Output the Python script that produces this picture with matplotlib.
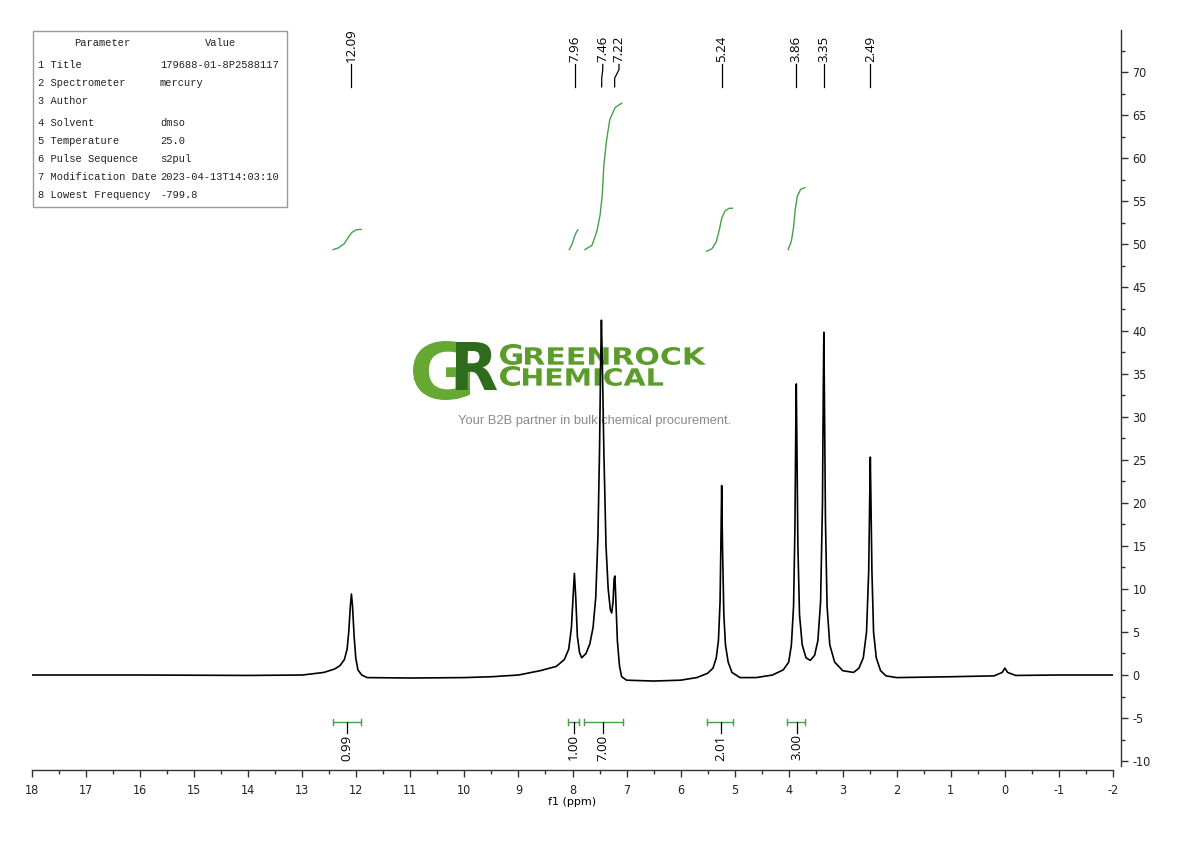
import matplotlib
matplotlib.use("Agg")
import matplotlib.pyplot as plt
import matplotlib.transforms as mtransforms
from matplotlib.patches import Rectangle, PathPatch
from matplotlib.textpath import TextPath
from matplotlib.font_manager import FontProperties
from matplotlib.ticker import MultipleLocator

plt.rcParams["axes.unicode_minus"] = False

# spectrum trace (ppm, intensity)
trace_ppm = [18.0, 16.0, 14.0, 13.0, 12.6, 12.4, 12.3, 12.22, 12.17, 12.14,
             12.11, 12.09, 12.07, 12.04, 12.01, 11.97, 11.9, 11.8, 11.0, 10.0,
             9.5, 9.0, 8.6, 8.3, 8.15, 8.07, 8.02, 7.99, 7.965, 7.94,
             7.91, 7.87, 7.83, 7.75, 7.68, 7.62, 7.57, 7.53, 7.50, 7.48,
             7.465, 7.45, 7.42, 7.38, 7.34, 7.30, 7.275, 7.25, 7.23, 7.215,
             7.20, 7.17, 7.13, 7.09, 7.0, 6.5, 6.0, 5.7, 5.5, 5.4,
             5.34, 5.30, 5.27, 5.255, 5.24, 5.225, 5.20, 5.17, 5.12, 5.05,
             4.9, 4.6, 4.3, 4.1, 4.0, 3.95, 3.91, 3.885, 3.87, 3.86,
             3.85, 3.83, 3.80, 3.75, 3.68, 3.60, 3.52, 3.46, 3.41, 3.375,
             3.36, 3.35, 3.34, 3.32, 3.29, 3.24, 3.15, 3.0, 2.8, 2.7,
             2.62, 2.56, 2.52, 2.50, 2.49, 2.48, 2.46, 2.43, 2.38, 2.30,
             2.2, 2.0, 1.0, 0.2, 0.05, 0.0, -0.05, -0.2, -1.0, -2.0]
trace_int = [0.0, 0.0, -0.05, 0.0, 0.3, 0.7, 1.1, 1.8, 3.0, 5.0,
             8.0, 9.4, 8.0, 4.5, 2.0, 0.6, 0.0, -0.3, -0.35, -0.3,
             -0.2, 0.0, 0.5, 1.0, 1.8, 3.0, 5.5, 9.0, 11.8, 9.0,
             4.5, 2.6, 2.0, 2.5, 3.6, 5.5, 9.0, 16.0, 26.0, 36.0,
             41.2, 37.0, 26.0, 15.0, 10.0, 7.6, 7.2, 8.5, 11.2, 11.5,
             9.0, 4.0, 1.0, -0.2, -0.6, -0.7, -0.6, -0.3, 0.2, 0.8,
             2.0, 4.0, 8.5, 15.0, 22.0, 15.0, 7.0, 3.5, 1.5, 0.3,
             -0.3, -0.3, 0.0, 0.6, 1.5, 3.5, 8.0, 17.0, 28.0, 33.8,
             28.0, 15.0, 7.0, 3.5, 2.0, 1.7, 2.3, 4.0, 8.5, 20.0,
             33.0, 39.8, 33.0, 18.0, 8.0, 3.5, 1.5, 0.5, 0.3, 0.8,
             2.0, 5.0, 12.0, 21.0, 25.3, 21.0, 12.0, 5.0, 2.0, 0.5,
             -0.1, -0.3, -0.2, -0.1, 0.3, 0.8, 0.3, -0.05, 0.0, 0.0]

# peak picking labels
peak_ppm = [12.09, 7.96, 7.46, 7.22, 5.24, 3.86, 3.35, 2.49]
peak_text = ["12.09", "7.96", "7.46", "7.22", "5.24", "3.86", "3.35", "2.49"]
peak_label_ppm = [12.09, 7.96, 7.44, 7.14, 5.24, 3.86, 3.35, 2.49]

# integration ranges and values
int_start = [12.43, 8.08, 7.79, 5.51, 4.03]
int_end = [11.91, 7.88, 7.07, 5.03, 3.70]
int_center = [12.17, 7.98, 7.43, 5.26, 3.85]
int_value = ["0.99", "1.00", "7.00", "2.01", "3.00"]

# integral curves
curve_ppm = [
    [12.43, 12.33, 12.22, 12.14, 12.08, 12.00, 11.91],
    [8.06, 8.01, 7.97, 7.93, 7.90],
    [7.77, 7.64, 7.55, 7.49, 7.45, 7.42, 7.37, 7.31, 7.21, 7.09],
    [5.52, 5.42, 5.34, 5.28, 5.24, 5.18, 5.10, 5.04],
    [4.01, 3.95, 3.91, 3.88, 3.84, 3.78, 3.70],
]
curve_val = [
    [49.4, 49.6, 50.1, 50.9, 51.4, 51.7, 51.75],
    [49.4, 50.0, 50.8, 51.4, 51.7],
    [49.4, 49.9, 51.5, 53.4, 55.7, 59.2, 62.1, 64.5, 65.9, 66.4],
    [49.2, 49.5, 50.3, 51.8, 53.0, 53.9, 54.2, 54.2],
    [49.4, 50.4, 52.0, 54.0, 55.6, 56.4, 56.6],
]

# parameter table
param_names = ["1 Title", "2 Spectrometer", "3 Author", "4 Solvent",
               "5 Temperature", "6 Pulse Sequence", "7 Modification Date",
               "8 Lowest Frequency"]
param_values = ["179688-01-8P2588117", "mercury", "", "dmso", "25.0",
                "s2pul", "2023-04-13T14:03:10", "-799.8"]

W, H = 1190, 841
GREEN = "#4a9e4a"


def fx(px):
    return px / W


def fy(py):
    return 1 - py / H


fig = plt.figure(figsize=(W / 100, H / 100), dpi=100)
ax = fig.add_axes([fx(32), fy(770), (1113 - 32) / W, (770 - 30) / H])
ax.patch.set_alpha(0)

# 1: spectrum and integral curves
ax.plot(trace_ppm, trace_int, color="black", lw=1.2, zorder=3)
for xs, ys in zip(curve_ppm, curve_val):
    ax.plot(xs, ys, color=GREEN, lw=1.0, zorder=3)

ax.set_xlim(18, -2)
ax.set_ylim(-11.03, 74.9)

# 2: axes styling
for side in ["top", "left"]:
    ax.spines[side].set_visible(False)
ax.spines["right"].set_position(("outward", 6))
ax.spines["right"].set_bounds(-10.6, 74.9)
for side in ["right", "bottom"]:
    ax.spines[side].set_color("#333333")
    ax.spines[side].set_linewidth(1.0)

ax.yaxis.tick_right()
ax.yaxis.set_major_locator(MultipleLocator(5))
ax.yaxis.set_minor_locator(MultipleLocator(2.5))
ax.xaxis.set_major_locator(MultipleLocator(1))
ax.xaxis.set_minor_locator(MultipleLocator(0.5))
ax.tick_params(which="major", length=5, width=1, color="#333333",
               labelcolor="#222222", pad=3)
ax.tick_params(axis="x", which="major", pad=5)
ax.tick_params(which="minor", length=3, width=1, color="#333333")
ax.set_yticks(range(-10, 75, 5))
tick_prop = FontProperties(family=["Liberation Sans Narrow", "DejaVu Sans"],
                           stretch="condensed", size=9)
for lab in ax.get_xticklabels() + ax.get_yticklabels():
    lab.set_fontproperties(tick_prop)
ax.set_xlabel("f1 (ppm)", fontsize=8, labelpad=0,
              family=["Liberation Sans Narrow", "DejaVu Sans"])

# 3: peak labels at top
for p, lp, t in zip(peak_ppm, peak_label_ppm, peak_text):
    if lp == p:
        ax.plot([p, p], [68.3, 70.9], color="black", lw=0.9)
    else:
        ax.plot([p, p, lp, lp], [68.3, 69.3, 70.3, 70.9], color="black", lw=0.9)
    ax.text(lp, 71.2, t, rotation=90, ha="center", va="bottom", fontsize=9.5,
            family="Open Sans")

# 4: integration brackets at bottom
for s, e, c, v in zip(int_start, int_end, int_center, int_value):
    ax.plot([s, e], [-5.46, -5.46], color=GREEN, lw=1.0)
    ax.plot([s, s], [-5.1, -5.8], color=GREEN, lw=1.0)
    ax.plot([e, e], [-5.1, -5.8], color=GREEN, lw=1.0)
    ax.plot([c, c], [-5.46, -6.7], color="black", lw=0.9)
    ax.text(c, -6.9, v, rotation=90, ha="center", va="top", fontsize=9.5,
            family="Open Sans")

# 5: parameter table
fig.add_artist(Rectangle((fx(33), fy(207)), 254 / W, 176 / H,
                         transform=fig.transFigure, facecolor="white",
                         edgecolor="#9a9a9a", lw=1.0, zorder=5))
mono = dict(family="Liberation Mono", fontsize=7.5, color="#222222", zorder=6,
            va="center")
fig.text(fx(102), fy(43), "Parameter", ha="center", **mono)
fig.text(fx(221), fy(43), "Value", ha="center", **mono)
row_py = [65, 83, 101, 123, 141, 159, 177, 195]
for py, name, val in zip(row_py, param_names, param_values):
    fig.text(fx(38), fy(py), name, ha="left", **mono)
    fig.text(fx(160), fy(py), val, ha="left", **mono)


# 6: watermark logo behind the spectrum
def add_word(s, x0, y_top, w, h, color):
    tp = TextPath((0, 0), s, size=100,
                  prop=FontProperties(family="DejaVu Sans", weight="bold"))
    bb = tp.get_extents()
    tr = (mtransforms.Affine2D().translate(-bb.x0, -bb.y0)
          .scale(w / bb.width, h / bb.height).translate(x0, H - y_top - h))
    fig.add_artist(PathPatch(tp, transform=tr, facecolor=color, lw=0,
                             zorder=-1))


add_word("G", 413, 341, 57, 59, "#67a834")
add_word("R", 456, 342, 41, 48, "#2f6b1d")
add_word("G", 500, 344, 22, 21, "#5b9c2a")
add_word("REENROCK", 525, 347, 181, 18, "#5b9c2a")
add_word("C", 500, 366, 20, 20, "#5b9c2a")
add_word("HEMICAL", 523, 368, 140, 18, "#5b9c2a")
fig.text(fx(595), fy(421), "Your B2B partner in bulk chemical procurement.",
         ha="center", va="center", fontsize=9.3, color="#8a8a8a",
         family="Liberation Sans", zorder=-1)

fig.savefig("out.png", dpi=100)
